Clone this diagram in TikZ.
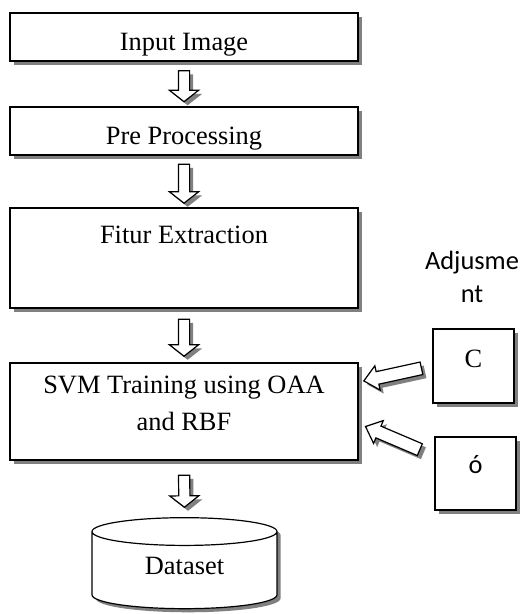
\documentclass[tikz,border=0pt]{standalone}
\usepackage{fontspec}
\setmainfont{Liberation Serif}
\newfontfamily\calibri{Carlito}
\usetikzlibrary{shapes.geometric,shapes.arrows,shadows}

\begin{document}
\begin{tikzpicture}[x=.5pt, y=-.5pt,
  shade/.style={drop shadow={shadow xshift=1.8pt, shadow yshift=-1.8pt, fill=black!50, opacity=1}},
  box/.style={draw, line width=1pt, fill=white, inner sep=0pt, shade, font=\fontsize{13.2}{18.5}\selectfont},
  flow/.style={single arrow, draw, line width=.6pt, fill=white, shade, inner xsep=0pt, inner ysep=2.5pt,
    single arrow head extend=4.5pt, single arrow tip angle=104, minimum height=15.5pt, sloped, allow upside down},
  sideflow/.style={flow, inner ysep=2.9pt, single arrow head extend=3pt, single arrow tip angle=83, minimum height=29.5pt}]
  \useasboundingbox (0,0) rectangle (521,614);
  % main column
  \node[box, minimum width=174pt, minimum height=24pt, text height=14pt, text depth=0pt] (inp) at (184,37) {Input Image};
  \node[box, minimum width=174pt, minimum height=24pt, text height=14pt, text depth=0pt] (pre) at (184,131) {Pre Processing};
  \node[box, minimum width=174pt, minimum height=50pt, text height=9pt, text depth=24pt] (fit) at (184,258) {Fitur Extraction};
  \node[box, minimum width=174pt, minimum height=48.5pt,
    label={[align=center, font=\fontsize{13.2}{18.5}\selectfont, yshift=4pt]center:SVM Training using OAA\\and RBF}] (svm) at (184,411.5) {};
  \node[cylinder, shape border rotate=90, aspect=.3, draw, line width=.6pt, fill=white, shade, minimum width=92.5pt, minimum height=45.5pt,
    text height=9pt, text depth=8pt, font=\fontsize{13.2}{16}\selectfont] (db) at (184.5,573) {Dataset};
  % parameters
  \node[align=center, font=\calibri\fontsize{13.2}{16.5}\selectfont] (adj) at (472,276.5) {Adjusme\\nt};
  \node[box, minimum width=40.5pt, minimum height=37pt, text height=9pt, text depth=8pt] (c) at (473.5,366) {C};
  \node[box, minimum width=40.5pt, minimum height=36.5pt, text height=9pt, text depth=9pt, font=\calibri\fontsize{13.2}{16}\selectfont] (s) at (475.5,473.5) {ó};
  \coordinate (ctip) at (368,380);
  \coordinate (stail) at (423,451);
  \coordinate (stip) at (369,428);
  % arrows
  \path (inp.south) -- node[flow] {} (pre.north);
  \path (pre.south) -- node[flow, minimum height=19.5pt] {} (fit.north);
  \path (fit.south) -- node[flow, minimum height=18.5pt] {} (svm.north);
  \path (svm.south) -- node[flow, minimum height=16pt] {} (db.north);
  \path (c.west) -- node[sideflow, pos=.56] {} (ctip);
  \path (stail) -- node[sideflow] {} (stip);
\end{tikzpicture}
\end{document}
